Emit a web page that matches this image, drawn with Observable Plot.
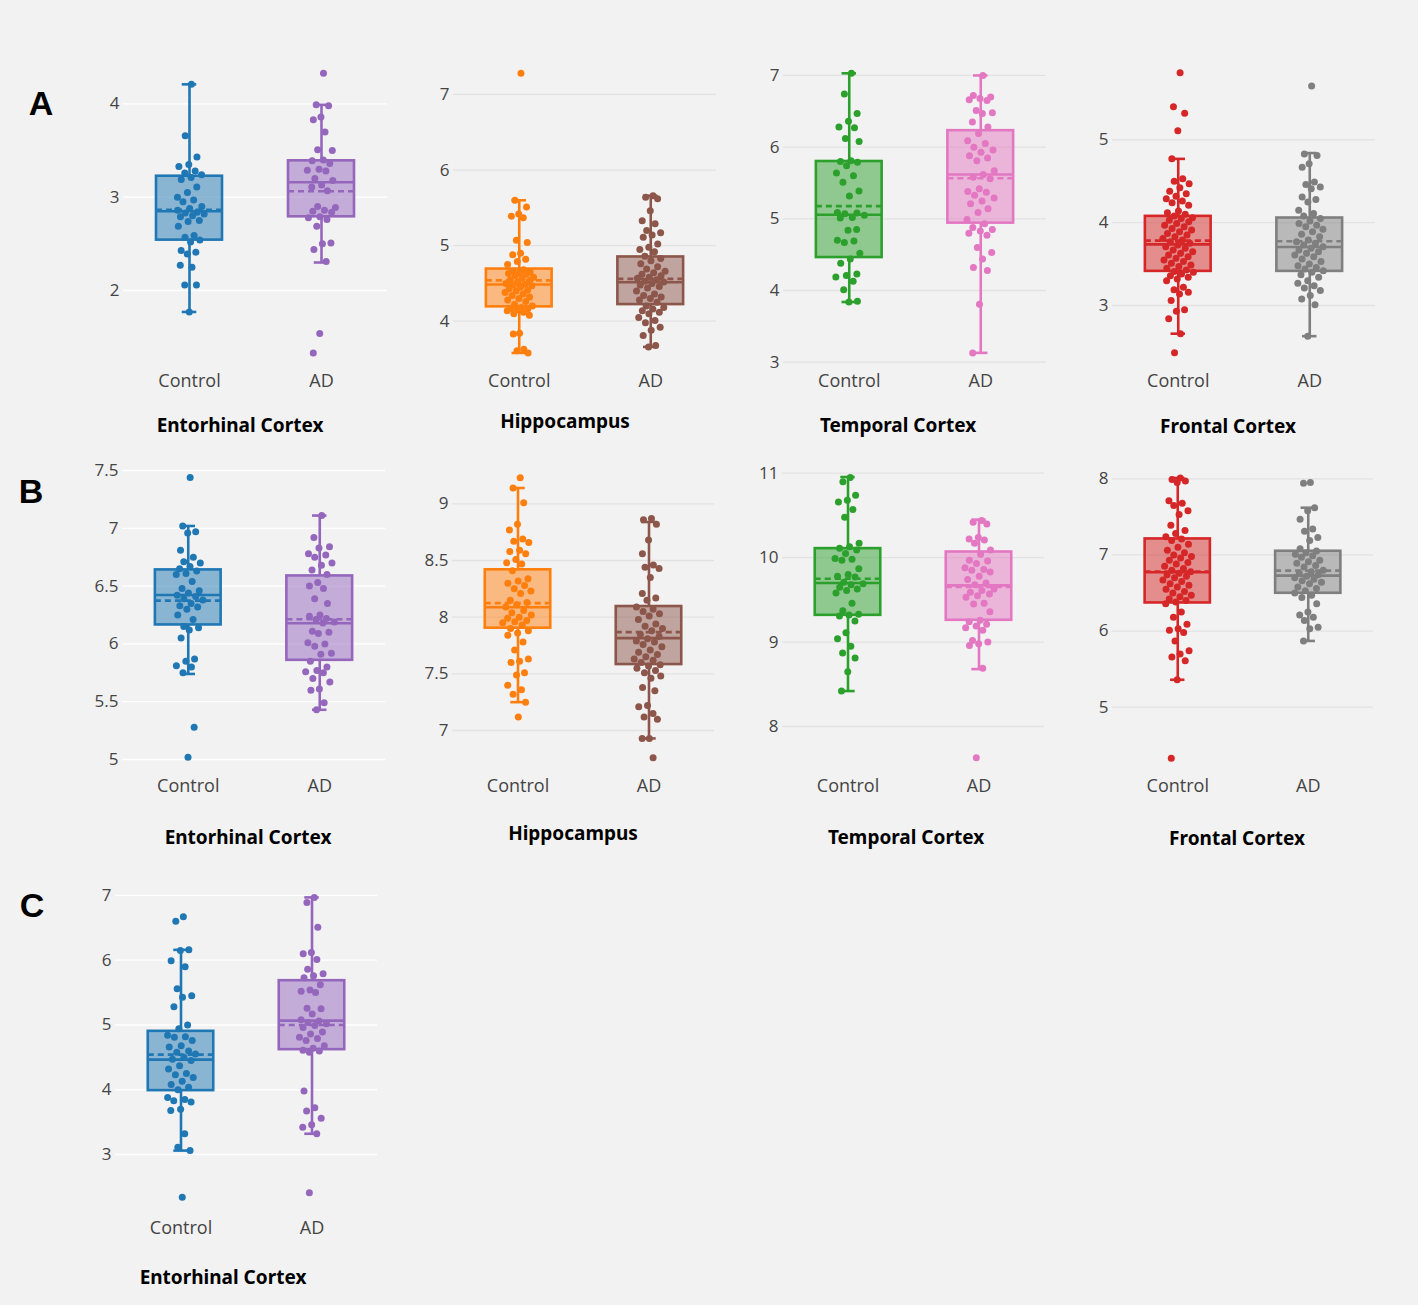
<!DOCTYPE html>
<html><head><meta charset="utf-8">
<script src="https://cdn.jsdelivr.net/npm/d3@7"></script>
<script src="https://cdn.jsdelivr.net/npm/@observablehq/plot@0.6"></script>
<style>
html,body{margin:0;padding:0;background:#f2f2f2;}
#root{position:relative;width:1418px;height:1305px;background:#f2f2f2;overflow:hidden;}
.panel{position:absolute;}
.title{position:absolute;font-family:"Noto Sans",sans-serif;font-weight:700;font-size:19px;color:#000;transform:translate(-50%,-50%);white-space:nowrap;line-height:1;}
.rowlab{position:absolute;font-family:"Liberation Sans",Arial,sans-serif;font-weight:700;font-size:34px;color:#000;transform:translate(-50%,-50%);line-height:1;}
</style></head><body><div id="root"></div>
<script>
// ---------- categories ----------
const groups = ["Control", "AD"];
const regions = ["Entorhinal Cortex", "Hippocampus", "Temporal Cortex", "Frontal Cortex"];
const rowLabels = ["A", "B", "C"];

// ---------- row A : points ----------
const A_EC_Control = [4.21,3.66,3.43,3.35,3.33,3.28,3.26,3.24,3.21,3.19,3.11,3.05,3.0,2.97,2.95,2.9,2.88,2.86,2.84,2.83,2.82,2.80,2.79,2.75,2.74,2.69,2.59,2.57,2.54,2.52,2.43,2.41,2.39,2.27,2.25,2.06,2.06,1.77];
const A_EC_AD = [4.33,3.99,3.98,3.86,3.83,3.70,3.51,3.50,3.40,3.39,3.36,3.30,3.29,3.28,3.20,3.18,3.13,3.11,3.07,2.90,2.89,2.86,2.85,2.84,2.79,2.78,2.76,2.69,2.51,2.50,2.44,2.31,1.54,1.33];
const A_HC_Control = [7.28,5.60,5.51,5.42,5.39,5.37,5.07,5.04,4.90,4.88,4.82,4.79,4.75,4.68,4.66,4.65,4.64,4.63,4.62,4.60,4.58,4.57,4.55,4.54,4.52,4.50,4.49,4.48,4.47,4.45,4.43,4.41,4.40,4.38,4.36,4.34,4.32,4.30,4.28,4.26,4.22,4.20,4.18,4.17,4.16,4.15,4.14,4.12,4.10,4.08,3.84,3.83,3.63,3.61,3.58];
const A_HC_AD = [5.66,5.64,5.62,5.46,5.33,5.29,5.20,5.17,5.14,5.11,5.02,4.98,4.95,4.92,4.86,4.83,4.80,4.76,4.72,4.69,4.66,4.64,4.62,4.60,4.58,4.57,4.55,4.53,4.52,4.50,4.48,4.46,4.44,4.40,4.36,4.34,4.32,4.30,4.28,4.25,4.20,4.18,4.16,4.14,4.12,4.10,4.05,4.01,3.98,3.92,3.88,3.81,3.68,3.66];
const A_TC_Control = [7.03,6.74,6.47,6.36,6.28,6.27,6.12,6.08,5.81,5.80,5.79,5.74,5.64,5.60,5.51,5.39,5.32,5.09,5.08,5.07,5.05,5.02,5.01,4.85,4.84,4.70,4.69,4.67,4.52,4.44,4.38,4.23,4.21,4.19,4.13,4.01,3.85,3.84];
const A_TC_AD = [7.00,6.72,6.70,6.68,6.66,6.65,6.51,6.48,6.47,6.35,6.28,6.19,6.09,6.05,6.00,5.96,5.93,5.88,5.85,5.81,5.67,5.62,5.58,5.56,5.42,5.38,5.37,5.33,5.29,5.25,5.21,5.14,5.09,4.99,4.93,4.88,4.85,4.83,4.80,4.77,4.60,4.53,4.44,4.32,4.28,3.81,3.13];
const A_FC_Control = [5.81,5.40,5.32,5.11,4.77,4.53,4.50,4.47,4.42,4.38,4.35,4.32,4.29,4.26,4.24,4.21,4.14,4.12,4.10,4.08,4.06,4.05,4.03,4.01,3.99,3.97,3.95,3.93,3.91,3.89,3.87,3.85,3.83,3.81,3.79,3.77,3.75,3.73,3.71,3.69,3.67,3.65,3.63,3.61,3.59,3.57,3.55,3.53,3.51,3.49,3.47,3.45,3.43,3.41,3.40,3.38,3.36,3.34,3.32,3.30,3.22,3.19,3.16,3.14,3.06,2.95,2.93,2.84,2.66,2.43];
const A_FC_AD = [5.65,4.83,4.81,4.71,4.67,4.49,4.46,4.43,4.41,4.31,4.28,4.25,4.15,4.11,4.08,4.05,4.02,3.99,3.97,3.95,3.92,3.89,3.86,3.83,3.79,3.77,3.75,3.73,3.71,3.69,3.67,3.65,3.63,3.61,3.59,3.56,3.53,3.50,3.48,3.46,3.44,3.42,3.40,3.37,3.34,3.30,3.27,3.24,3.21,3.18,3.12,3.08,3.01,2.63];

// ---------- row B : points ----------
const B_EC_Control = [7.44,7.02,6.97,6.96,6.81,6.75,6.71,6.70,6.67,6.65,6.63,6.61,6.60,6.54,6.48,6.46,6.44,6.42,6.41,6.39,6.38,6.35,6.33,6.32,6.30,6.25,6.21,6.15,6.14,6.12,6.05,5.87,5.85,5.81,5.80,5.75,5.28,5.02];
const B_EC_AD = [7.11,6.92,6.84,6.83,6.78,6.77,6.75,6.70,6.68,6.64,6.60,6.53,6.50,6.48,6.39,6.35,6.25,6.24,6.22,6.21,6.19,6.18,6.11,6.10,6.09,6.01,6.00,5.98,5.92,5.91,5.85,5.80,5.77,5.76,5.75,5.70,5.67,5.61,5.60,5.49,5.43];
const B_HC_Control = [9.23,9.14,9.01,8.82,8.77,8.69,8.67,8.66,8.59,8.58,8.56,8.51,8.48,8.47,8.41,8.34,8.32,8.30,8.28,8.25,8.23,8.21,8.15,8.13,8.11,8.09,8.06,8.04,8.02,8.00,7.99,7.97,7.96,7.95,7.93,7.90,7.88,7.86,7.84,7.78,7.71,7.63,7.61,7.60,7.51,7.49,7.40,7.36,7.32,7.25,7.12];
const B_HC_AD = [8.87,8.86,8.82,8.68,8.56,8.46,8.44,8.43,8.35,8.21,8.17,8.15,8.09,8.07,8.05,8.03,8.01,7.98,7.94,7.92,7.90,7.88,7.85,7.83,7.81,7.79,7.78,7.76,7.74,7.71,7.69,7.67,7.65,7.63,7.62,7.60,7.58,7.57,7.55,7.53,7.51,7.48,7.46,7.38,7.35,7.22,7.21,7.15,7.12,7.10,6.93,6.93,6.76];
const B_TC_Control = [10.95,10.90,10.74,10.68,10.66,10.57,10.48,10.17,10.13,10.11,10.09,10.05,9.99,9.98,9.97,9.87,9.80,9.78,9.77,9.71,9.69,9.68,9.65,9.63,9.61,9.58,9.46,9.37,9.33,9.32,9.31,9.25,9.11,9.04,8.95,8.87,8.81,8.65,8.42];
const B_TC_AD = [10.44,10.42,10.40,10.24,10.22,10.21,10.17,10.09,10.04,9.97,9.96,9.93,9.88,9.86,9.85,9.83,9.78,9.74,9.70,9.68,9.63,9.61,9.59,9.57,9.55,9.53,9.46,9.45,9.36,9.26,9.24,9.21,9.19,9.17,9.14,9.02,9.00,8.98,8.96,8.69,7.63];
const B_FC_Control = [8.01,7.99,7.97,7.95,7.71,7.68,7.65,7.58,7.53,7.39,7.32,7.28,7.24,7.21,7.19,7.14,7.10,7.06,7.03,7.00,6.98,6.96,6.93,6.90,6.88,6.85,6.82,6.80,6.78,6.76,6.74,6.72,6.70,6.67,6.65,6.62,6.60,6.58,6.55,6.52,6.50,6.47,6.45,6.42,6.40,6.38,6.36,6.25,6.18,6.09,6.03,6.01,5.98,5.87,5.74,5.70,5.66,5.61,5.36,4.33];
const B_FC_AD = [7.95,7.94,7.62,7.58,7.47,7.34,7.31,7.23,7.19,7.08,7.05,7.03,7.01,6.99,6.97,6.93,6.91,6.89,6.86,6.84,6.80,6.78,6.76,6.74,6.72,6.70,6.68,6.66,6.64,6.62,6.58,6.56,6.53,6.50,6.47,6.44,6.36,6.25,6.21,6.18,6.14,6.05,6.03,5.87];

// ---------- row C : points ----------
const C_EC_Control = [6.67,6.60,6.16,6.15,5.99,5.90,5.56,5.45,5.43,5.28,5.00,4.94,4.84,4.82,4.81,4.76,4.68,4.66,4.60,4.58,4.55,4.50,4.47,4.45,4.37,4.32,4.25,4.23,4.19,4.13,4.08,4.04,4.00,3.88,3.85,3.83,3.81,3.70,3.68,3.32,3.11,3.06,2.34];
const C_EC_AD = [6.97,6.89,6.51,6.12,6.10,6.01,5.86,5.79,5.76,5.73,5.62,5.54,5.52,5.50,5.26,5.25,5.17,5.08,5.06,5.04,5.02,4.99,4.96,4.89,4.86,4.81,4.79,4.76,4.68,4.64,4.61,4.60,4.58,3.98,3.72,3.67,3.56,3.46,3.42,3.32,2.41];

// ---------- box statistics: [lower fence, Q1, median, mean, Q3, upper fence] ----------
const A_EC_Control_stats = [1.77, 2.54, 2.85, 2.865, 3.225, 4.21];
const A_EC_AD_stats      = [2.30, 2.79, 3.16, 3.064, 3.39, 3.99];
const A_HC_Control_stats = [3.58, 4.19, 4.485, 4.54, 4.69, 5.60];
const A_HC_AD_stats      = [3.66, 4.22, 4.516, 4.56, 4.85, 5.66];
const A_TC_Control_stats = [3.84, 4.46, 5.056, 5.177, 5.80, 7.03];
const A_TC_AD_stats      = [3.13, 4.94, 5.619, 5.567, 6.23, 7.00];
const A_FC_Control_stats = [2.66, 3.412, 3.738, 3.783, 4.076, 4.77];
const A_FC_AD_stats      = [2.63, 3.412, 3.706, 3.775, 4.056, 4.84];
const B_EC_Control_stats = [5.74, 6.164, 6.423, 6.374, 6.64, 7.02];
const B_EC_AD_stats      = [5.43, 5.858, 6.178, 6.213, 6.588, 7.11];
const B_HC_Control_stats = [7.25, 7.903, 8.088, 8.124, 8.418, 9.14];
const B_HC_AD_stats      = [6.93, 7.582, 7.815, 7.868, 8.094, 8.84];
const B_TC_Control_stats = [8.42, 9.317, 9.70, 9.751, 10.107, 10.955];
const B_TC_AD_stats      = [8.68, 9.258, 9.672, 9.653, 10.067, 10.45];
const B_FC_Control_stats = [5.36, 6.369, 6.772, 6.78, 7.21, 8.01];
const B_FC_AD_stats      = [5.87, 6.496, 6.728, 6.794, 7.048, 7.62];
const C_EC_Control_stats = [3.06, 3.986, 4.465, 4.542, 4.902, 6.16];
const C_EC_AD_stats      = [3.32, 4.619, 5.067, 5.00, 5.684, 6.97];

// ---------- axis tick values ----------
const ticks_A_EC = [2, 3, 4];
const ticks_A_HC = [4, 5, 6, 7];
const ticks_A_TC = [3, 4, 5, 6, 7];
const ticks_A_FC = [3, 4, 5];
const ticks_B_EC = [5, 5.5, 6, 6.5, 7, 7.5];
const ticks_B_HC = [7, 7.5, 8, 8.5, 9];
const ticks_B_TC = [8, 9, 10, 11];
const ticks_B_FC = [5, 6, 7, 8];
const ticks_C_EC = [3, 4, 5, 6, 7];

// ---------- styles ----------
const palette = {
  blue: "#1f77b4", purple: "#9467bd", orange: "#ff7f0e", brown: "#8c564b",
  green: "#2ca02c", pink: "#e377c2", red: "#d62728", gray: "#7f7f7f"
};
const regionColors = [
  [palette.blue, palette.purple],
  [palette.orange, palette.brown],
  [palette.green, palette.pink],
  [palette.red, palette.gray]
];
const gridWhite = "#ffffff", gridGray = "#e2e2e2";

// ---------- layout (page pixels of plot area; y axis range) ----------
const panels = [
  {region:0, row:0, left:123, right:387, top:62, bottom:365, domain:[1.196,4.444], ticks:ticks_A_EC, grid:gridWhite, data:[A_EC_Control,A_EC_AD], stats:[A_EC_Control_stats,A_EC_AD_stats], title:[240,425]},
  {region:1, row:0, left:453, right:716, top:62, bottom:365, domain:[3.414,7.423], ticks:ticks_A_HC, grid:gridGray, data:[A_HC_Control,A_HC_AD], stats:[A_HC_Control_stats,A_HC_AD_stats], title:[565,421]},
  {region:2, row:0, left:783, right:1046, top:62, bottom:365, domain:[2.954,7.181], ticks:ticks_A_TC, grid:gridGray, data:[A_TC_Control,A_TC_AD], stats:[A_TC_Control_stats,A_TC_AD_stats], title:[898,425]},
  {region:3, row:0, left:1112, right:1375, top:62, bottom:365, domain:[2.276,5.933], ticks:ticks_A_FC, grid:gridGray, data:[A_FC_Control,A_FC_AD], stats:[A_FC_Control_stats,A_FC_AD_stats], title:[1228,426]},
  {region:0, row:1, left:122, right:385, top:462, bottom:770, domain:[4.905,7.569], ticks:ticks_B_EC, grid:gridWhite, data:[B_EC_Control,B_EC_AD], stats:[B_EC_Control_stats,B_EC_AD_stats], title:[248,837]},
  {region:1, row:1, left:452, right:714, top:462, bottom:770, domain:[6.647,9.365], ticks:ticks_B_HC, grid:gridGray, data:[B_HC_Control,B_HC_AD], stats:[B_HC_Control_stats,B_HC_AD_stats], title:[573,833]},
  {region:2, row:1, left:782, right:1044, top:462, bottom:770, domain:[7.479,11.127], ticks:ticks_B_TC, grid:gridGray, data:[B_TC_Control,B_TC_AD], stats:[B_TC_Control_stats,B_TC_AD_stats], title:[906,837]},
  {region:3, row:1, left:1112, right:1373, top:462, bottom:770, domain:[4.168,8.214], ticks:ticks_B_FC, grid:gridGray, data:[B_FC_Control,B_FC_AD], stats:[B_FC_Control_stats,B_FC_AD_stats], title:[1237,838]},
  {region:0, row:2, left:115, right:377, top:885, bottom:1212, domain:[2.104,7.154], ticks:ticks_C_EC, grid:gridWhite, data:[C_EC_Control,C_EC_AD], stats:[C_EC_Control_stats,C_EC_AD_stats], title:[223,1277]}
];
const rowLabelPos = [[41,103],[31,491],[32,905]];

const root = document.getElementById("root");

function buildPanel(p) {
  const ml = 50, mr = 8, mt = 14, mb = 46;
  const width = p.right - p.left + ml + mr;
  const height = p.bottom - p.top + mt + mb;
  const colors = regionColors[p.region];
  const boxes = p.stats.map((s, i) => ({i, lo:s[0], q1:s[1], median:s[2], mean:s[3], q3:s[4], hi:s[5], color:colors[i]}));
  const pts = [];
  const bw = 0.035 * (p.domain[1] - p.domain[0]);
  p.data.forEach((vals, i) => {
    const dens = vals.map(v => vals.filter(u => Math.abs(u - v) <= bw).length);
    const maxD = Math.max(...dens);
    vals.forEach((v, k) => {
      const u = ((k + 1) * 0.6180339887) % 1;
      const f = 0.3 + 0.7 * Math.sqrt(dens[k] / maxD);
      pts.push({x: i + (2 * u - 1) * 0.12 * f, y: v, color: colors[i]});
    });
  });
  const hw = 0.25, cw = 0.055, sw = 2.6;
  const chart = Plot.plot({
    width, height, marginLeft: ml, marginRight: mr, marginTop: mt, marginBottom: mb,
    style: {background: "transparent", fontFamily: "'Open Sans', sans-serif", color: "#444", overflow: "visible"},
    x: {domain: [-0.5, 1.5]},
    y: {domain: p.domain},
    color: {type: "identity"},
    marks: [
      Plot.ruleY(p.ticks, {stroke: p.grid, strokeWidth: 1.3}),
      Plot.axisY(p.ticks, {tickSize: 0, tickPadding: 4, fontSize: 17, label: null, tickFormat: d => String(d)}),
      Plot.axisX([0, 1], {tickSize: 0, tickPadding: 9, fontSize: 18, label: null, tickFormat: i => groups[i]}),
      Plot.ruleX(boxes, {x: "i", y1: "lo", y2: "q1", stroke: "color", strokeWidth: sw}),
      Plot.ruleX(boxes, {x: "i", y1: "q3", y2: "hi", stroke: "color", strokeWidth: sw}),
      Plot.ruleY(boxes, {y: "lo", x1: d => d.i - cw, x2: d => d.i + cw, stroke: "color", strokeWidth: sw}),
      Plot.ruleY(boxes, {y: "hi", x1: d => d.i - cw, x2: d => d.i + cw, stroke: "color", strokeWidth: sw}),
      Plot.rect(boxes, {x1: d => d.i - hw, x2: d => d.i + hw, y1: "q1", y2: "q3", fill: "color", fillOpacity: 0.5, stroke: "color", strokeWidth: sw}),
      Plot.ruleY(boxes, {y: "median", x1: d => d.i - hw, x2: d => d.i + hw, stroke: "color", strokeWidth: sw}),
      Plot.ruleY(boxes, {y: "mean", x1: d => d.i - hw, x2: d => d.i + hw, stroke: "color", strokeWidth: sw, strokeDasharray: "6,4"}),
      Plot.dot(pts, {x: "x", y: "y", fill: "color", r: 3.5})
    ]
  });
  chart.classList.add("panel");
  chart.style.left = (p.left - ml) + "px";
  chart.style.top = (p.top - mt) + "px";
  root.appendChild(chart);

  const t = document.createElement("div");
  t.className = "title";
  t.textContent = regions[p.region];
  t.style.left = p.title[0] + "px";
  t.style.top = p.title[1] + "px";
  root.appendChild(t);
}

panels.forEach(buildPanel);

rowLabels.forEach((lab, i) => {
  const d = document.createElement("div");
  d.className = "rowlab";
  d.textContent = lab;
  d.style.left = rowLabelPos[i][0] + "px";
  d.style.top = rowLabelPos[i][1] + "px";
  root.appendChild(d);
});
</script></body></html>
